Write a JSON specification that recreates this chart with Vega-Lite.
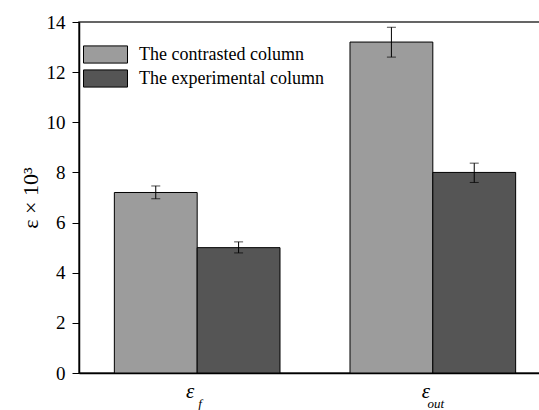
{
  "$schema": "https://vega.github.io/schema/vega-lite/v6.json",
  "width": 472,
  "height": 351,
  "autosize": {"type": "none"},
  "padding": {"left": 79, "top": 22, "right": 0, "bottom": 37},
  "background": "white",
  "config": {
    "font": "Liberation Serif",
    "view": {"stroke": "#333333", "strokeWidth": 1.5},
    "axis": {"domainColor": "black", "domainWidth": 1.5, "tickColor": "black", "labelColor": "black", "titleColor": "black", "grid": false, "labelFont": "Liberation Serif", "titleFont": "Liberation Serif"},
    "legend": {"labelFont": "Liberation Serif"}
  },
  "datasets": {
    "bars": [
      {"group": "f", "series": "The contrasted column", "value": 7.2, "lo": 6.95, "hi": 7.46},
      {"group": "f", "series": "The experimental column", "value": 5.0, "lo": 4.79, "hi": 5.23},
      {"group": "out", "series": "The contrasted column", "value": 13.2, "lo": 12.6, "hi": 13.79},
      {"group": "out", "series": "The experimental column", "value": 8.0, "lo": 7.6, "hi": 8.37}
    ],
    "labels": [
      {"group": "f", "sym": "ε", "sub": "f"},
      {"group": "out", "sym": "ε", "sub": "out"}
    ]
  },
  "encoding": {
    "x": {
      "field": "group", "type": "nominal", "sort": ["f", "out"],
      "scale": {"paddingInner": 0.297, "paddingOuter": 0.15},
      "axis": {"labels": false, "ticks": false, "title": null}
    }
  },
  "layer": [
    {
      "data": {"name": "bars"},
      "mark": {"type": "bar", "stroke": "black", "strokeWidth": 1},
      "encoding": {
        "xOffset": {"field": "series", "type": "nominal", "scale": {"paddingInner": 0, "paddingOuter": 0}},
        "y": {
          "field": "value", "type": "quantitative",
          "scale": {"domain": [0, 14], "nice": false},
          "axis": {
            "values": [0, 2, 4, 6, 8, 10, 12, 14], "tickSize": 7, "labelFontSize": 19, "labelPadding": 7,
            "title": "ε × 10³", "titleFontSize": 22, "titleFontWeight": "normal", "titlePadding": 4
          }
        },
        "fill": {
          "field": "series", "type": "nominal",
          "scale": {"range": ["#9c9c9c", "#555555"]},
          "legend": {
            "title": null, "orient": "none", "legendX": 15, "legendY": 21,
            "symbolType": "M-2,-0.78H2V0.78H-2Z", "symbolSize": 484,
            "symbolStrokeColor": "black", "symbolStrokeWidth": 1, "symbolOpacity": 1,
            "labelFont": "Liberation Serif", "labelFontSize": 18, "labelColor": "black", "labelOffset": 22,
            "labelLimit": 400, "rowPadding": 1
          }
        }
      }
    },
    {
      "data": {"name": "bars"},
      "mark": {"type": "rule", "color": "black", "strokeWidth": 1},
      "encoding": {
        "xOffset": {"field": "series", "type": "nominal"},
        "y": {"field": "lo", "type": "quantitative"},
        "y2": {"field": "hi"}
      }
    },
    {
      "data": {"name": "bars"},
      "mark": {"type": "tick", "color": "black", "thickness": 1, "size": 9},
      "encoding": {
        "xOffset": {"field": "series", "type": "nominal"},
        "y": {"field": "hi", "type": "quantitative"}
      }
    },
    {
      "data": {"name": "bars"},
      "mark": {"type": "tick", "color": "black", "thickness": 1, "size": 9},
      "encoding": {
        "xOffset": {"field": "series", "type": "nominal"},
        "y": {"field": "lo", "type": "quantitative"}
      }
    },
    {
      "data": {"name": "labels"},
      "mark": {"type": "text", "font": "Liberation Serif", "fontStyle": "italic", "fontSize": 21, "baseline": "alphabetic", "dx": -7, "dy": 25, "color": "black"},
      "encoding": {
        "y": {"datum": 0, "type": "quantitative"},
        "text": {"field": "sym"}
      }
    },
    {
      "data": {"name": "labels"},
      "mark": {"type": "text", "font": "Liberation Serif", "fontStyle": "italic", "fontSize": 13, "baseline": "alphabetic", "dx": 3, "dy": 35, "color": "black"},
      "encoding": {
        "y": {"datum": 0, "type": "quantitative"},
        "text": {"field": "sub"}
      }
    }
  ]
}
